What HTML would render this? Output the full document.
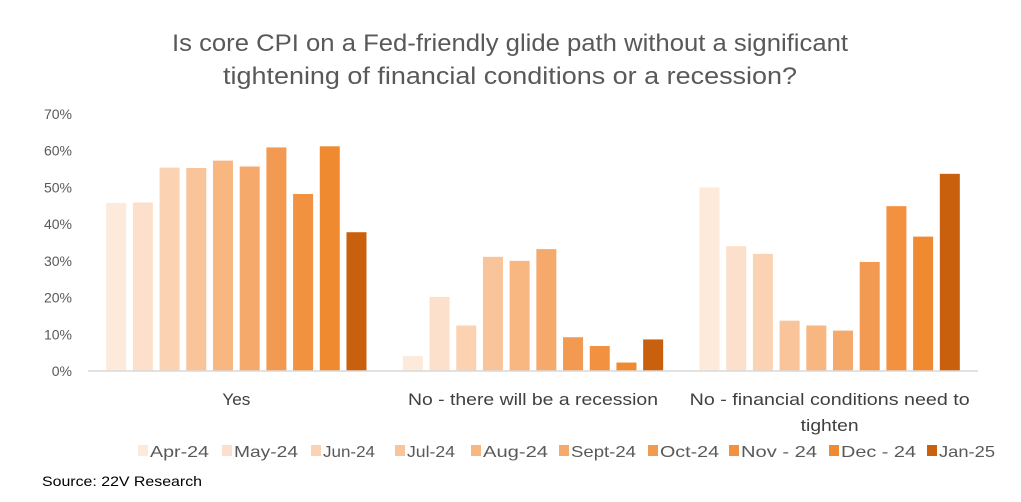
<!DOCTYPE html>
<html><head><meta charset="utf-8"><style>
html,body{margin:0;padding:0;background:#fff;}
svg{display:block;font-family:"Liberation Sans",sans-serif;}
</style></head><body>
<svg id="chart" width="1021" height="502" viewBox="0 0 1021 502">
<rect x="0" y="0" width="1021" height="502" fill="#fff"/>
<text x="510" y="51" text-anchor="middle" font-size="24" fill="#595959" textLength="676" lengthAdjust="spacingAndGlyphs">Is core CPI on a Fed-friendly glide path without a significant</text>
<text x="510" y="84" text-anchor="middle" font-size="24" fill="#595959" textLength="574" lengthAdjust="spacingAndGlyphs">tightening of financial conditions or a recession?</text>
<g id="yaxis"></g>
<g id="bars"></g>
<line x1="88" y1="371" x2="978" y2="371" stroke="#d9d9d9" stroke-width="1.5"/>
<g id="xlabels"></g>
<g id="legend"></g>
<text x="42" y="486" font-size="14" fill="#000" textLength="160" lengthAdjust="spacingAndGlyphs">Source: 22V Research</text>
</svg>
<script>
const categories = ["Yes", "No - there will be a recession", "No - financial conditions need to tighten"];
const seriesNames = ["Apr-24","May-24","Jun-24","Jul-24","Aug-24","Sept-24","Oct-24","Nov - 24","Dec - 24","Jan-25"];
const yesValues = [45.8, 45.9, 55.4, 55.3, 57.3, 55.7, 60.9, 48.2, 61.2, 37.8];
const recessionValues = [4.1, 20.2, 12.4, 31.1, 30.0, 33.2, 9.2, 6.8, 2.3, 8.6];
const tightenValues = [50.0, 34.0, 31.9, 13.7, 12.4, 11.0, 29.7, 44.9, 36.6, 53.7];
const yTicks = [0, 10, 20, 30, 40, 50, 60, 70];
const colors = ["#fdeadb","#fce0cb","#fbd3b3","#f9c49a","#f8b781","#f5aa6c","#f39a52","#f2913f","#f08a30","#c9600e"];

const NS = "http://www.w3.org/2000/svg";
const plotLeft = 88, plotRight = 978, baseY = 371, topY = 114, maxV = 70;
const y = v => baseY - (v / maxV) * (baseY - topY);
const catW = (plotRight - plotLeft) / categories.length;
const catCenter = i => plotLeft + catW * (i + 0.5);
const step = 26.7, barW = 20;
const barX = (ci, si) => catCenter(ci) - (step * seriesNames.length - (step - barW)) / 2 + si * step;

const yaxis = document.getElementById('yaxis');
yTicks.forEach(t => {
  const tx = document.createElementNS(NS, 'text');
  tx.setAttribute('x', 72); tx.setAttribute('y', y(t) + 5);
  tx.setAttribute('text-anchor', 'end'); tx.setAttribute('font-size', '14'); tx.setAttribute('fill', '#595959');
  tx.textContent = t + '%';
  
  
  yaxis.appendChild(tx);
});

const allValues = [yesValues, recessionValues, tightenValues];
const bars = document.getElementById('bars');
allValues.forEach((vals, ci) => {
  vals.forEach((v, si) => {
    const r = document.createElementNS(NS, 'rect');
    r.setAttribute('x', barX(ci, si)); r.setAttribute('y', y(v));
    r.setAttribute('width', barW); r.setAttribute('height', baseY - y(v));
    r.setAttribute('fill', colors[si]);
    
    
    bars.appendChild(r);
  });
});

const xl = document.getElementById('xlabels');
const labelLines = [["Yes"], ["No - there will be a recession"], ["No - financial conditions need to", "tighten"]];
const labelLens = [[28], [250], [280, 58]];
labelLines.forEach((lines, ci) => {
  lines.forEach((ln, li) => {
    const tx = document.createElementNS(NS, 'text');
    tx.setAttribute('x', catCenter(ci)); tx.setAttribute('y', 405 + li * 26);
    tx.setAttribute('text-anchor', 'middle'); tx.setAttribute('font-size', '17'); tx.setAttribute('fill', '#404040');
    tx.setAttribute('textLength', labelLens[ci][li]); tx.setAttribute('lengthAdjust', 'spacingAndGlyphs');
    tx.textContent = ln;
    
    
    xl.appendChild(tx);
  });
});

const legend = document.getElementById('legend');
const legPos = [138, 222, 311, 395, 471, 559, 648, 729, 829, 927];
const legTextW = [59, 64, 52, 48, 65, 65, 59, 76, 75, 56];
seriesNames.forEach((n, i) => {
  const cx = legPos[i];
  const g = document.createElementNS(NS, 'g');
  
  
  const sq = document.createElementNS(NS, 'rect');
  sq.setAttribute('x', cx); sq.setAttribute('y', 445); sq.setAttribute('width', 10); sq.setAttribute('height', 11);
  sq.setAttribute('fill', colors[i]);
  
  
  g.appendChild(sq);
  const tx = document.createElementNS(NS, 'text');
  tx.setAttribute('x', cx + 12); tx.setAttribute('y', 457);
  tx.setAttribute('font-size', '16'); tx.setAttribute('fill', '#595959');
  tx.setAttribute('textLength', legTextW[i]); tx.setAttribute('lengthAdjust', 'spacingAndGlyphs');
  tx.textContent = n;
  
  
  g.appendChild(tx);
  legend.appendChild(g);
});
</script>
</body></html>
